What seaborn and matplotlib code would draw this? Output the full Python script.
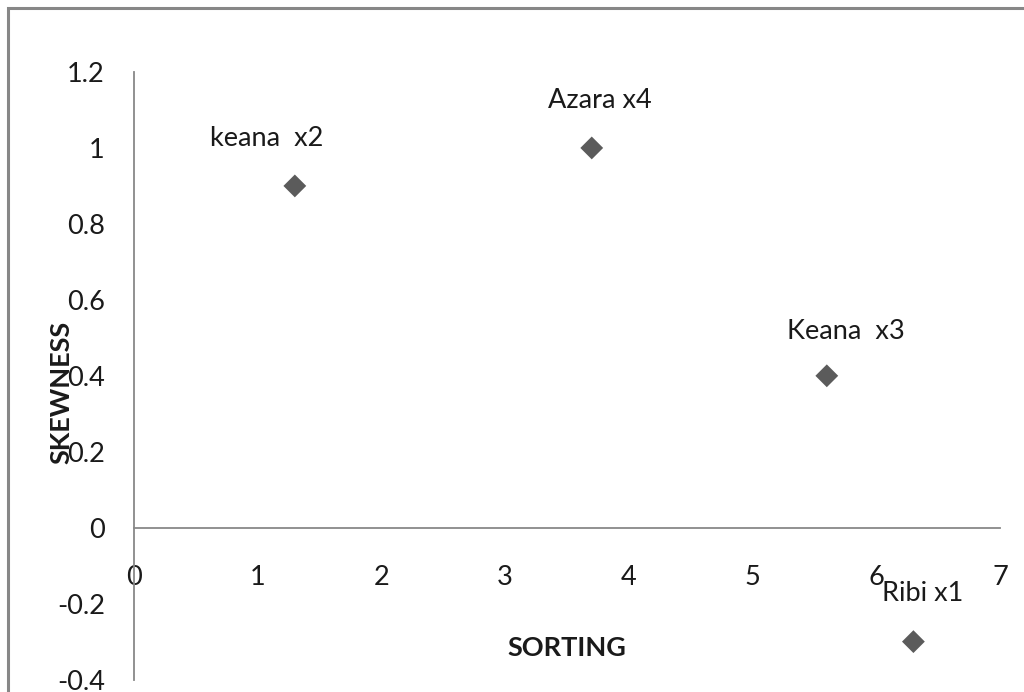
import matplotlib
matplotlib.use("Agg")
import matplotlib.pyplot as plt
from matplotlib.patches import Rectangle
import seaborn as sns
import pandas as pd

# Sample statistics
samples = ["keana  x2", "Azara x4", "Keana  x3", "Ribi x1"]
sorting = [1.3, 3.7, 5.6, 6.3]
skewness = [0.9, 1.0, 0.4, -0.3]
# Label offsets from each point, in points
label_dx = [-20, 6, 14, 7]
label_dy = [34, 34, 32, 35]

x_ticks = [0, 1, 2, 3, 4, 5, 6, 7]
y_ticks = [-0.4, -0.2, 0, 0.2, 0.4, 0.6, 0.8, 1.0, 1.2]
y_tick_labels = ["-0.4", "-0.2", "0", "0.2", "0.4", "0.6", "0.8", "1", "1.2"]

df = pd.DataFrame({"SORTING": sorting, "SKEWNESS": skewness, "sample": samples})

sns.set_theme(style="white")
plt.rcParams["font.family"] = ["Lato", "DejaVu Sans"]

FS = 19.5
TXT = "#1a1a1a"

fig = plt.figure(figsize=(10.24, 6.92), dpi=100)
fig.patch.set_facecolor("white")

# Outer chart frame
fig.patches.append(Rectangle((8 / 1024, -0.05), 1.2, 1 - 8 / 692 + 0.05,
                             transform=fig.transFigure, fill=False,
                             edgecolor="#878787", linewidth=2.2, zorder=0))

ax = fig.add_axes([134 / 1024, 1 - 679.6 / 692, 866 / 1024, (679.6 - 72) / 692])
ax.set_facecolor("none")

sns.scatterplot(data=df, x="SORTING", y="SKEWNESS", marker="D", s=135,
                color="#5b5b5b", edgecolor="none", ax=ax, zorder=3)

for name, x, y, dx, dy in zip(samples, sorting, skewness, label_dx, label_dy):
    ax.annotate(name, (x, y), xytext=(dx, dy), textcoords="offset points",
                ha="center", va="center", fontsize=FS, color=TXT)

ax.set_xlim(0, 7)
ax.set_ylim(-0.4, 1.2)
ax.set_xticks(x_ticks)
ax.set_yticks(y_ticks)
ax.set_yticklabels(y_tick_labels)

for side in ["top", "right"]:
    ax.spines[side].set_visible(False)
ax.spines["bottom"].set_position(("data", 0))
for side in ["left", "bottom"]:
    ax.spines[side].set_color("#888888")
    ax.spines[side].set_linewidth(1.3)

ax.tick_params(axis="x", length=0, pad=27, labelsize=FS, labelcolor=TXT)
ax.tick_params(axis="y", length=0, pad=21, labelsize=FS, labelcolor=TXT)

ax.set_xlabel("")
ax.set_ylabel("")
fig.text(567 / 1024, 1 - 648 / 692, "SORTING", ha="center", va="center",
         fontsize=FS, fontweight="bold", color=TXT)
fig.text(61 / 1024, 1 - 392 / 692, "SKEWNESS", ha="center", va="center",
         rotation=90, fontsize=FS, fontweight="bold", color=TXT)

fig.savefig("out.png", dpi=100, facecolor="white")
